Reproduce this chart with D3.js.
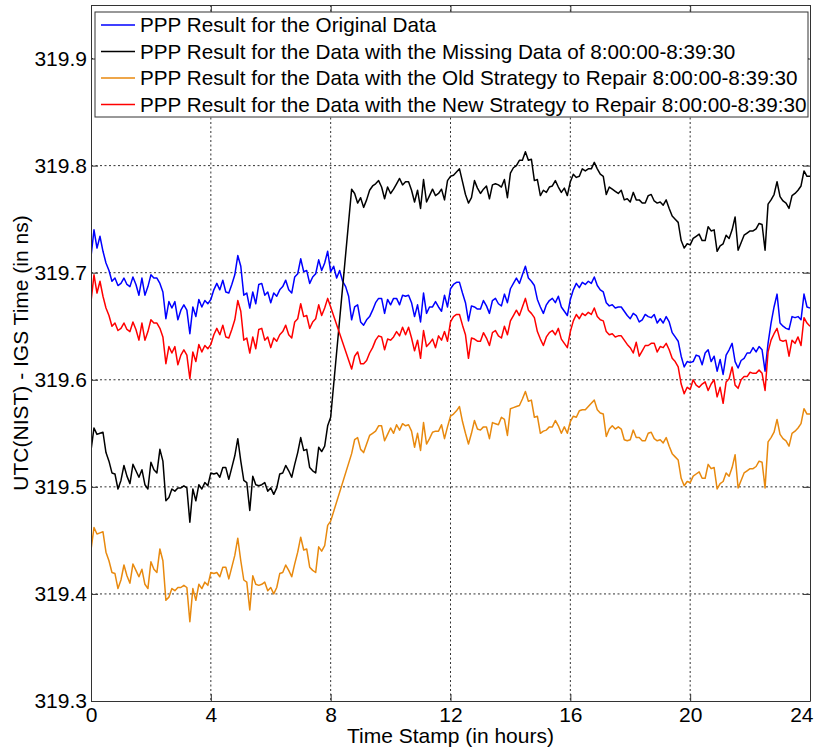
<!DOCTYPE html>
<html lang="en">
<head>
    <meta charset="UTF-8">
    <title>PPP Result Comparison</title>
    <script src="https://d3js.org/d3.v7.min.js"></script>
    <style>
        body {
            margin: 0;
            background-color: #ffffff;
        }
        text {
            font-family: "Liberation Sans", Arial, sans-serif;
            fill: #000000;
        }
        .grid line {
            stroke: #333333;
            stroke-width: 1;
            stroke-dasharray: 2,2.5;
        }
        .axis path, .axis line {
            stroke: #333333;
            stroke-width: 1;
        }
        .series {
            fill: none;
            stroke-width: 1.5;
            stroke-linejoin: round;
        }
    </style>
</head>
<body>
    <svg id="chart" width="820" height="748"></svg>

    <script>
        // sample times, every 0.1 h from 0 to 24
        const hours = d3.range(0, 241).map(i => i / 10);

        const legendLabels = [
            "PPP Result for the Original Data",
            "PPP Result for the Data with the Missing Data of 8:00:00-8:39:30",
            "PPP Result for the Data with the Old Strategy to Repair 8:00:00-8:39:30",
            "PPP Result for the Data with the New Strategy to Repair 8:00:00-8:39:30"
        ];
        const seriesColors = ["#0000ff", "#000000", "#e8890e", "#ff0000"];

        const xTicks = [0, 4, 8, 12, 16, 20, 24];
        const yTicks = [319.3, 319.4, 319.5, 319.6, 319.7, 319.8, 319.9];

        // original data (no gap)
        const original = [
            319.715, 319.740, 319.723, 319.734, 319.720, 319.709, 319.702, 319.692, 319.695, 319.688,
            319.690, 319.695, 319.689, 319.687, 319.696, 319.689, 319.679, 319.695, 319.679, 319.687,
            319.698, 319.695, 319.695, 319.690, 319.682, 319.657, 319.673, 319.667, 319.673, 319.656,
            319.665, 319.670, 319.665, 319.643, 319.668, 319.659, 319.675, 319.668, 319.674, 319.671,
            319.675, 319.684, 319.690, 319.684, 319.693, 319.682, 319.681, 319.689, 319.698, 319.716,
            319.706, 319.679, 319.681, 319.667, 319.682, 319.671, 319.689, 319.690, 319.679, 319.682,
            319.672, 319.681, 319.678, 319.684, 319.687, 319.693, 319.684, 319.681, 319.696, 319.699,
            319.713, 319.701, 319.702, 319.690, 319.696, 319.699, 319.712, 319.702, 319.709, 319.720,
            319.701, 319.706, 319.695, 319.702, 319.692, 319.687, 319.678, 319.656, 319.668, 319.670,
            319.654, 319.651, 319.656, 319.659, 319.665, 319.672, 319.676, 319.676, 319.662, 319.675,
            319.670, 319.676, 319.676, 319.670, 319.679, 319.678, 319.679, 319.672, 319.659, 319.670,
            319.654, 319.681, 319.662, 319.668, 319.668, 319.673, 319.668, 319.664, 319.679, 319.668,
            319.685, 319.689, 319.691, 319.691, 319.681, 319.672, 319.655, 319.669, 319.668, 319.666,
            319.666, 319.674, 319.669, 319.662, 319.674, 319.676, 319.671, 319.669, 319.680, 319.672,
            319.685, 319.690, 319.695, 319.690, 319.698, 319.706, 319.695, 319.692, 319.688, 319.675,
            319.668, 319.662, 319.670, 319.674, 319.676, 319.672, 319.678, 319.668, 319.664, 319.660,
            319.675, 319.684, 319.690, 319.686, 319.691, 319.689, 319.692, 319.690, 319.696, 319.688,
            319.684, 319.682, 319.672, 319.669, 319.670, 319.667, 319.668, 319.668, 319.664, 319.660,
            319.657, 319.662, 319.660, 319.654, 319.656, 319.661, 319.659, 319.658, 319.661, 319.653,
            319.657, 319.653, 319.659, 319.654, 319.644, 319.640, 319.636, 319.622, 319.612, 319.617,
            319.616, 319.617, 319.623, 319.622, 319.614, 319.625, 319.628, 319.617, 319.622, 319.608,
            319.619, 319.605, 319.623, 319.628, 319.634, 319.617, 319.611, 319.618, 319.620, 319.625,
            319.625, 319.630, 319.626, 319.631, 319.628, 319.608, 319.634, 319.653, 319.668, 319.680,
            319.653, 319.650, 319.648, 319.647, 319.659, 319.658, 319.659, 319.656, 319.680, 319.668,
            319.667
        ];

        // data with 8:00:00-8:39:30 missing
        const missing = [
            319.534, 319.555, 319.549, 319.550, 319.551, 319.532, 319.524, 319.513, 319.512, 319.498,
            319.506, 319.520, 319.510, 319.503, 319.521, 319.515, 319.509, 319.516, 319.502, 319.498,
            319.523, 319.516, 319.513, 319.535, 319.524, 319.487, 319.490, 319.498, 319.496, 319.499,
            319.499, 319.501, 319.499, 319.467, 319.498, 319.487, 319.502, 319.498, 319.504, 319.501,
            319.513, 319.512, 319.513, 319.509, 319.518, 319.518, 319.507, 319.518, 319.529, 319.545,
            319.524, 319.506, 319.504, 319.478, 319.510, 319.502, 319.501, 319.502, 319.504, 319.496,
            319.499, 319.493, 319.499, 319.512, 319.513, 319.520, 319.515, 319.509, 319.521, 319.532,
            319.546, 319.534, 319.535, 319.518, 319.515, 319.513, 319.537, 319.533, 319.538, 319.557,
            319.565, null, null, null, null, null, null, 319.778, 319.774, 319.765,
            319.770, 319.761, 319.768, 319.777, 319.781, 319.783, 319.786, 319.780, 319.769, 319.780,
            319.774, 319.778, 319.783, 319.788, 319.782, 319.785, 319.785, 319.777, 319.766, 319.777,
            319.760, 319.787, 319.766, 319.772, 319.778, 319.772, 319.774, 319.778, 319.768, 319.786,
            319.790, 319.791, 319.794, 319.797, 319.785, 319.773, 319.765, 319.770, 319.786, 319.779,
            319.774, 319.778, 319.781, 319.769, 319.782, 319.783, 319.782, 319.780, 319.787, 319.770,
            319.793, 319.798, 319.800, 319.805, 319.805, 319.813, 319.805, 319.806, 319.786, 319.787,
            319.772, 319.777, 319.775, 319.780, 319.781, 319.786, 319.780, 319.775, 319.779, 319.772,
            319.785, 319.792, 319.789, 319.790, 319.797, 319.795, 319.797, 319.797, 319.803, 319.797,
            319.792, 319.790, 319.773, 319.780, 319.778, 319.776, 319.774, 319.777, 319.768, 319.769,
            319.766, 319.775, 319.768, 319.768, 319.765, 319.765, 319.772, 319.773, 319.767, 319.765,
            319.766, 319.763, 319.768, 319.760, 319.753, 319.750, 319.747, 319.730, 319.723, 319.727,
            319.726, 319.732, 319.734, 319.736, 319.730, 319.730, 319.743, 319.739, 319.740, 319.720,
            319.725, 319.727, 319.735, 319.732, 319.740, 319.752, 319.721, 319.728, 319.735, 319.737,
            319.739, 319.739, 319.741, 319.746, 319.745, 319.721, 319.764, 319.768, 319.773, 319.785,
            319.771, 319.767, 319.765, 319.760, 319.772, 319.774, 319.777, 319.781, 319.795, 319.790,
            319.790
        ];

        // old repair strategy
        const oldRepair = [
            319.441, 319.462, 319.456, 319.457, 319.458, 319.439, 319.431, 319.420, 319.419, 319.405,
            319.413, 319.427, 319.417, 319.410, 319.428, 319.422, 319.416, 319.423, 319.409, 319.405,
            319.430, 319.423, 319.420, 319.442, 319.431, 319.394, 319.397, 319.405, 319.403, 319.406,
            319.406, 319.408, 319.406, 319.374, 319.405, 319.394, 319.409, 319.405, 319.411, 319.408,
            319.420, 319.419, 319.420, 319.416, 319.425, 319.425, 319.414, 319.425, 319.436, 319.452,
            319.431, 319.413, 319.411, 319.385, 319.417, 319.409, 319.408, 319.409, 319.411, 319.403,
            319.406, 319.400, 319.406, 319.419, 319.420, 319.427, 319.422, 319.416, 319.428, 319.439,
            319.453, 319.441, 319.442, 319.425, 319.422, 319.420, 319.444, 319.440, 319.445, 319.464,
            319.468, null, null, null, null, null, null, 319.531, 319.544, 319.546,
            319.535, 319.532, 319.540, 319.548, 319.550, 319.552, 319.557, 319.557, 319.543, 319.549,
            319.555, 319.550, 319.558, 319.553, 319.559, 319.557, 319.558, 319.552, 319.537, 319.550,
            319.534, 319.560, 319.540, 319.545, 319.551, 319.552, 319.552, 319.558, 319.545, 319.556,
            319.566, 319.568, 319.571, 319.575, 319.561, 319.550, 319.540, 319.550, 319.562, 319.554,
            319.553, 319.556, 319.556, 319.545, 319.560, 319.559, 319.558, 319.565, 319.563, 319.548,
            319.573, 319.574, 319.575, 319.576, 319.582, 319.589, 319.580, 319.581, 319.565, 319.566,
            319.550, 319.552, 319.553, 319.556, 319.556, 319.562, 319.557, 319.550, 319.556, 319.550,
            319.561, 319.566, 319.565, 319.571, 319.572, 319.572, 319.575, 319.578, 319.581, 319.572,
            319.569, 319.568, 319.547, 319.554, 319.557, 319.554, 319.556, 319.554, 319.544, 319.543,
            319.544, 319.553, 319.546, 319.546, 319.543, 319.543, 319.550, 319.551, 319.545, 319.543,
            319.544, 319.541, 319.546, 319.538, 319.531, 319.528, 319.525, 319.508, 319.501, 319.505,
            319.504, 319.510, 319.512, 319.514, 319.508, 319.508, 319.521, 319.517, 319.518, 319.498,
            319.503, 319.505, 319.513, 319.510, 319.518, 319.530, 319.499, 319.506, 319.513, 319.515,
            319.517, 319.517, 319.519, 319.524, 319.523, 319.499, 319.542, 319.546, 319.551, 319.563,
            319.549, 319.545, 319.543, 319.538, 319.550, 319.552, 319.555, 319.559, 319.573, 319.568,
            319.568
        ];

        // new repair strategy
        const newRepair = [
            319.673, 319.698, 319.681, 319.692, 319.678, 319.667, 319.660, 319.650, 319.653, 319.646,
            319.648, 319.653, 319.647, 319.645, 319.654, 319.647, 319.637, 319.653, 319.637, 319.645,
            319.656, 319.653, 319.653, 319.648, 319.640, 319.615, 319.631, 319.625, 319.631, 319.614,
            319.623, 319.628, 319.623, 319.601, 319.626, 319.617, 319.633, 319.626, 319.632, 319.629,
            319.633, 319.642, 319.648, 319.642, 319.651, 319.640, 319.639, 319.647, 319.656, 319.674,
            319.664, 319.637, 319.639, 319.625, 319.640, 319.629, 319.647, 319.648, 319.637, 319.640,
            319.630, 319.639, 319.636, 319.642, 319.645, 319.651, 319.642, 319.639, 319.654, 319.657,
            319.671, 319.659, 319.660, 319.648, 319.654, 319.657, 319.670, 319.660, 319.667, 319.676,
            319.668, null, null, null, null, null, null, 319.610, 319.622, 319.626,
            319.615, 319.615, 319.618, 319.625, 319.630, 319.637, 319.641, 319.640, 319.628, 319.638,
            319.637, 319.640, 319.645, 319.641, 319.649, 319.642, 319.649, 319.639, 319.627, 319.637,
            319.620, 319.646, 319.631, 319.634, 319.638, 319.630, 319.641, 319.637, 319.645, 319.636,
            319.654, 319.659, 319.661, 319.661, 319.651, 319.642, 319.620, 319.639, 319.638, 319.636,
            319.636, 319.644, 319.639, 319.632, 319.644, 319.646, 319.641, 319.639, 319.650, 319.642,
            319.655, 319.660, 319.665, 319.660, 319.668, 319.676, 319.665, 319.662, 319.658, 319.645,
            319.638, 319.632, 319.640, 319.644, 319.646, 319.642, 319.648, 319.638, 319.634, 319.630,
            319.645, 319.655, 319.661, 319.657, 319.662, 319.660, 319.663, 319.661, 319.667, 319.659,
            319.656, 319.655, 319.645, 319.642, 319.643, 319.640, 319.641, 319.641, 319.637, 319.633,
            319.630, 319.625, 319.635, 319.622, 319.627, 319.632, 319.632, 319.634, 319.634, 319.626,
            319.631, 319.630, 319.634, 319.628, 319.620, 319.617, 319.612, 319.596, 319.587, 319.593,
            319.591, 319.600, 319.595, 319.593, 319.596, 319.598, 319.590, 319.596, 319.600, 319.584,
            319.593, 319.578, 319.598, 319.601, 319.612, 319.595, 319.592, 319.600, 319.603, 319.603,
            319.607, 319.606, 319.606, 319.609, 319.606, 319.590, 319.626, 319.637, 319.643, 319.648,
            319.637, 319.636, 319.637, 319.622, 319.637, 319.634, 319.640, 319.632, 319.658, 319.653,
            319.650
        ];

        const allSeries = [original, missing, oldRepair, newRepair];

        const svg = d3.select("#chart");
        const plot = { left: 91, right: 810, top: 5, bottom: 701 };

        const x = d3.scaleLinear().domain([0, 24]).range([plot.left, plot.right]);
        const y = d3.scaleLinear().domain([319.3, 319.95]).range([plot.bottom, plot.top]);

        svg.append("rect")
            .attr("width", 820)
            .attr("height", 748)
            .attr("fill", "#ffffff");

        svg.append("defs").append("clipPath")
            .attr("id", "plot-clip")
            .append("rect")
            .attr("x", plot.left)
            .attr("y", plot.top)
            .attr("width", plot.right - plot.left)
            .attr("height", plot.bottom - plot.top);

        // dotted grid
        const grid = svg.append("g").attr("class", "grid");
        grid.selectAll(".vgrid")
            .data(xTicks.slice(1, -1))
            .enter()
            .append("line")
            .attr("x1", d => x(d))
            .attr("x2", d => x(d))
            .attr("y1", plot.top)
            .attr("y2", plot.bottom);
        grid.selectAll(".hgrid")
            .data(yTicks.slice(1))
            .enter()
            .append("line")
            .attr("x1", plot.left)
            .attr("x2", plot.right)
            .attr("y1", d => y(d))
            .attr("y2", d => y(d));

        // lines, gaps in the data are bridged by a straight segment
        const line = d3.line()
            .x(d => x(d[0]))
            .y(d => y(d[1]));

        const lines = svg.append("g").attr("clip-path", "url(#plot-clip)");
        allSeries.forEach(function(values, i) {
            const points = hours.map((h, j) => [h, values[j]]).filter(p => p[1] !== null);
            lines.append("path")
                .attr("class", "series")
                .attr("stroke", seriesColors[i])
                .attr("d", line(points));
        });

        // axes with inward ticks on all four sides
        const tickLen = 7;
        const fontSize = 21;

        const xAxis = svg.append("g")
            .attr("class", "axis")
            .attr("transform", `translate(0,${plot.bottom})`)
            .call(d3.axisBottom(x).tickValues(xTicks).tickSizeInner(-tickLen).tickSizeOuter(0).tickPadding(6));
        const yAxis = svg.append("g")
            .attr("class", "axis")
            .attr("transform", `translate(${plot.left},0)`)
            .call(d3.axisLeft(y).tickValues(yTicks).tickSizeInner(-tickLen).tickSizeOuter(0).tickPadding(4)
                .tickFormat(d3.format(".1f")));
        svg.append("g")
            .attr("class", "axis")
            .attr("transform", `translate(0,${plot.top})`)
            .call(d3.axisTop(x).tickValues(xTicks).tickSizeInner(-tickLen).tickSizeOuter(0).tickFormat(""));
        svg.append("g")
            .attr("class", "axis")
            .attr("transform", `translate(${plot.right},0)`)
            .call(d3.axisRight(y).tickValues(yTicks).tickSizeInner(-tickLen).tickSizeOuter(0).tickFormat(""));

        svg.selectAll(".axis text")
            .attr("font-family", null)
            .style("font-size", fontSize + "px")
            .attr("fill", "#000");

        // last x label sits inside the figure edge, as in the original
        xAxis.selectAll(".tick text")
            .filter(d => d === 24)
            .attr("text-anchor", "end")
            .attr("dx", 3);

        svg.append("text")
            .attr("x", (plot.left + plot.right) / 2)
            .attr("y", 743)
            .attr("text-anchor", "middle")
            .style("font-size", fontSize + "px")
            .text("Time Stamp (in hours)");

        svg.append("text")
            .attr("transform", `translate(27.5,${(plot.top + plot.bottom) / 2}) rotate(-90)`)
            .attr("text-anchor", "middle")
            .style("font-size", fontSize + "px")
            .text("UTC(NIST) - IGS Time (in ns)");

        // legend
        const legend = svg.append("g");
        legend.append("rect")
            .attr("x", 95)
            .attr("y", 12)
            .attr("width", 713)
            .attr("height", 105)
            .attr("fill", "#ffffff")
            .attr("stroke", "#333333")
            .attr("stroke-width", 1);

        const rowY = d3.scalePoint().domain(d3.range(legendLabels.length)).range([25, 104.5]);
        legendLabels.forEach(function(label, i) {
            legend.append("line")
                .attr("x1", 101)
                .attr("x2", 135)
                .attr("y1", rowY(i))
                .attr("y2", rowY(i))
                .attr("stroke", seriesColors[i])
                .attr("stroke-width", 1.5);
            legend.append("text")
                .attr("x", 140)
                .attr("y", rowY(i) + 7.4)
                .style("font-size", "20.7px")
                .text(label);
        });
    </script>
</body>
</html>
